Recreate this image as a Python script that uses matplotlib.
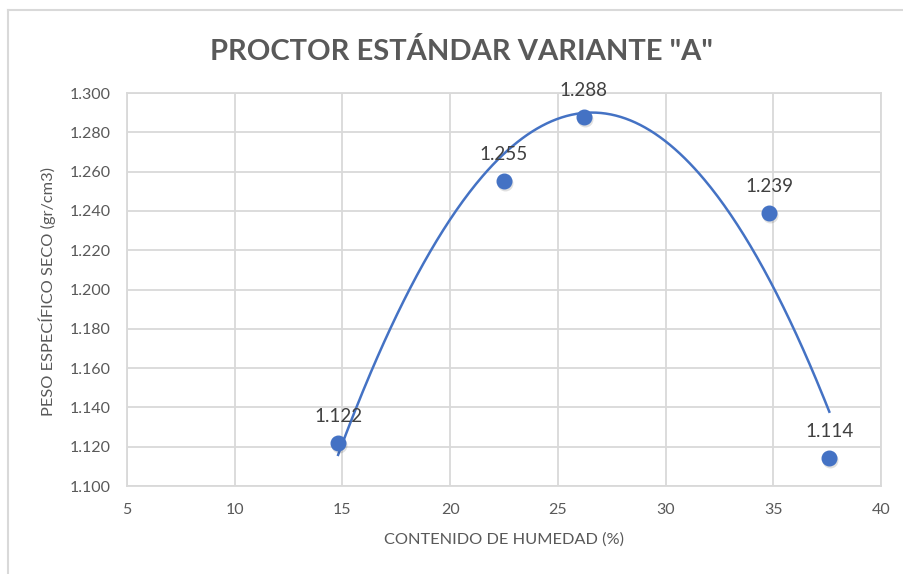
import numpy as np
import matplotlib
matplotlib.use("Agg")
import matplotlib.pyplot as plt
from matplotlib.lines import Line2D
from matplotlib.transforms import offset_copy

# Data
humedad = [14.8, 22.5, 26.2, 34.8, 37.6]
peso_seco = [1.122, 1.255, 1.288, 1.239, 1.114]
labels = ["1.122", "1.255", "1.288", "1.239", "1.114"]
x_ticks = [5, 10, 15, 20, 25, 30, 35, 40]
y_ticks = [1.100, 1.120, 1.140, 1.160, 1.180, 1.200, 1.220, 1.240, 1.260, 1.280, 1.300]

title = 'PROCTOR ESTÁNDAR VARIANTE "A"'
xlabel = "CONTENIDO DE HUMEDAD (%)"
ylabel = "PESO ESPECÍFICO SECO (gr/cm3)"

plt.rcParams['font.family'] = ['Lato', 'DejaVu Sans']

W, H = 904, 574
fig = plt.figure(figsize=(W / 100, H / 100), dpi=100)
fig.patch.set_facecolor('white')

# chart area border
grey = '#d9d9d9'
fig.add_artist(Line2D([8 / W, 8 / W], [0, 1 - 10 / H], color=grey, lw=1.5, transform=fig.transFigure))
fig.add_artist(Line2D([8 / W, 1], [1 - 10 / H, 1 - 10 / H], color=grey, lw=1.5, transform=fig.transFigure))

ax = fig.add_axes([127 / W, 1 - 486 / H, (881 - 127) / W, (486 - 93) / H])
ax.set_xlim(5, 40)
ax.set_ylim(1.1, 1.3)
ax.set_xticks(x_ticks)
ax.set_yticks(y_ticks)
ax.set_xticklabels([str(t) for t in x_ticks])
ax.set_yticklabels([f"{t:.3f}" for t in y_ticks])
ax.grid(True, color=grey, lw=1.3)
ax.set_axisbelow(True)
for s in ax.spines.values():
    s.set_color(grey)
    s.set_linewidth(1.3)
ax.tick_params(length=0, labelsize=11.5, colors='#595959', pad=12)
ax.tick_params(axis='x', pad=12)

# trendline (2nd order polynomial fit as in the original)
coef = np.polyfit(humedad, peso_seco, 2)
xs = np.linspace(min(humedad), max(humedad), 300)
ax.plot(xs, np.polyval(coef, xs), color='#4472C4', lw=1.8, zorder=3)

# marker shadow
sh = offset_copy(ax.transData, fig=fig, x=1.0, y=-2.0, units='dots')
ax.plot(humedad, peso_seco, 'o', ms=11.5, color='#000000', alpha=0.12, mec='none', transform=sh, zorder=3.5)
ax.plot(humedad, peso_seco, 'o', ms=10.5, color='#4472C4', mec='#4472C4', zorder=4)

for x, y, t in zip(humedad, peso_seco, labels):
    ax.annotate(t, (x, y), xytext=(0, 13), textcoords='offset points', ha='center', va='bottom',
                fontsize=13.5, color='#404040', zorder=5)

fig.text(461.5 / W, 1 - 52 / H, title, ha='center', va='center', fontsize=21, fontweight='bold', color='#595959')
fig.text(504 / W, 1 - 540 / H, xlabel, ha='center', va='center', fontsize=11.8, color='#595959')
fig.text(47 / W, 1 - 291 / H, ylabel, ha='center', va='center', rotation=90, fontsize=11.8, color='#595959')

fig.savefig('out.png', dpi=100)
